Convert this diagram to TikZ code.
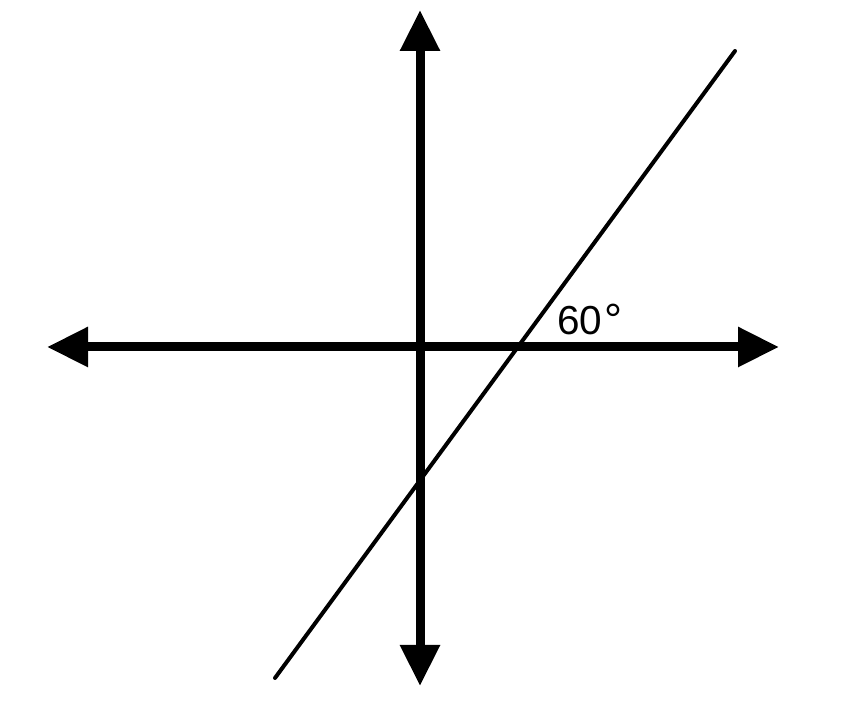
\documentclass[tikz,border=0pt]{standalone}
\usepackage{fontspec}
\setmainfont{Liberation Sans}
\usetikzlibrary{arrows.meta}
\newcommand{\degsign}{\raisebox{-1pt}{\fontsize{45}{45}\selectfont °}}
\begin{document}
\begin{tikzpicture}[x=1pt,y=1pt,
  axis/.style={line width=9pt,{Triangle[length=41pt,width=38pt]}-{Triangle[length=41pt,width=38pt]}},
  transversal/.style={line width=4pt,line cap=round},
  lbl/.style={font=\fontsize{40.5}{40.5}\selectfont,inner sep=0pt,anchor=base west}]
\useasboundingbox (0,0) rectangle (855,717);
\coordinate (L) at (47,370);
\coordinate (R) at (779,370);
\coordinate (T) at (420,707);
\coordinate (B) at (420,31);
\coordinate (P) at (275,39);
\coordinate (Q) at (735,666);
\draw[axis] (L) -- (R);
\draw[axis] (B) -- (T);
\draw[transversal] (P) -- (Q);
\node[lbl] (ang) at (557,382) {60\hspace{2pt}\degsign};
\end{tikzpicture}
\end{document}
